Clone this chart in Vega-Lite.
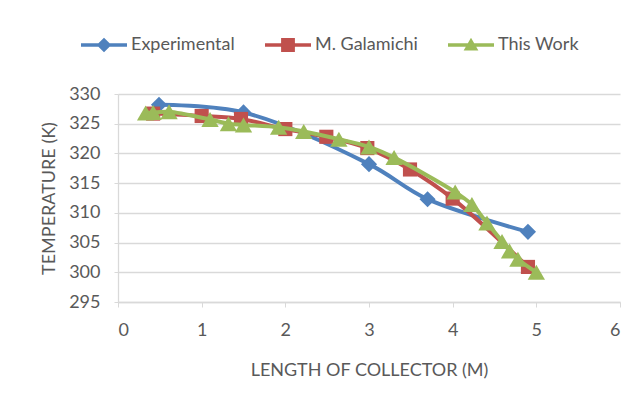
{
  "$schema": "https://vega.github.io/schema/vega-lite/v6.json",
  "width": 502,
  "height": 208,
  "autosize": {"type": "none"},
  "padding": {"left": 118, "top": 94, "right": 15, "bottom": 102},
  "background": "white",
  "config": {
    "view": {"stroke": null},
    "font": "Lato",
    "axis": {
      "labelFont": "Lato", "labelFontSize": 18, "labelColor": "#595959",
      "titleFont": "Lato", "titleFontSize": 18, "titleColor": "#595959", "titleFontWeight": "normal",
      "domainColor": "#d9d9d9", "tickColor": "#d9d9d9", "gridColor": "#d9d9d9", "gridWidth": 1.3, "domainWidth": 1.3
    },
    "legend": {"labelFont": "Lato", "labelFontSize": 18, "labelColor": "#595959"}
  },
  "data": {"values": [
    {"series": "Experimental", "length": 0.49, "temp": 328.2},
    {"series": "Experimental", "length": 1.5, "temp": 326.9},
    {"series": "Experimental", "length": 3.0, "temp": 318.2},
    {"series": "Experimental", "length": 3.7, "temp": 312.3},
    {"series": "Experimental", "length": 4.9, "temp": 306.8},
    {"series": "M. Galamichi", "length": 0.42, "temp": 326.7},
    {"series": "M. Galamichi", "length": 1.0, "temp": 326.3},
    {"series": "M. Galamichi", "length": 1.47, "temp": 325.8},
    {"series": "M. Galamichi", "length": 2.0, "temp": 324.1},
    {"series": "M. Galamichi", "length": 2.49, "temp": 322.8},
    {"series": "M. Galamichi", "length": 2.98, "temp": 320.9},
    {"series": "M. Galamichi", "length": 3.49, "temp": 317.3},
    {"series": "M. Galamichi", "length": 4.0, "temp": 312.4},
    {"series": "M. Galamichi", "length": 4.9, "temp": 300.9},
    {"series": "This Work", "length": 0.33, "temp": 326.8},
    {"series": "This Work", "length": 0.42, "temp": 326.9},
    {"series": "This Work", "length": 0.61, "temp": 327.0},
    {"series": "This Work", "length": 1.1, "temp": 325.7},
    {"series": "This Work", "length": 1.32, "temp": 325.0},
    {"series": "This Work", "length": 1.5, "temp": 324.8},
    {"series": "This Work", "length": 1.92, "temp": 324.4},
    {"series": "This Work", "length": 2.22, "temp": 323.7},
    {"series": "This Work", "length": 2.64, "temp": 322.4},
    {"series": "This Work", "length": 3.0, "temp": 321.1},
    {"series": "This Work", "length": 3.3, "temp": 319.3},
    {"series": "This Work", "length": 4.03, "temp": 313.5},
    {"series": "This Work", "length": 4.23, "temp": 311.4},
    {"series": "This Work", "length": 4.41, "temp": 308.3},
    {"series": "This Work", "length": 4.59, "temp": 305.2},
    {"series": "This Work", "length": 4.68, "temp": 303.6},
    {"series": "This Work", "length": 4.78, "temp": 302.2},
    {"series": "This Work", "length": 5.0, "temp": 300.0}
  ]},
  "encoding": {
    "x": {
      "field": "length", "type": "quantitative",
      "scale": {"domain": [0, 6], "nice": false},
      "axis": {"values": [0, 1, 2, 3, 4, 5, 6], "grid": false, "title": "LENGTH OF COLLECTOR (M)", "tickSize": 5, "labelPadding": 14, "titlePadding": 22}
    },
    "y": {
      "field": "temp", "type": "quantitative",
      "scale": {"domain": [295, 330], "zero": false, "nice": false},
      "axis": {"values": [295, 300, 305, 310, 315, 320, 325, 330], "grid": true, "title": "TEMPERATURE (K)", "tickSize": 4, "labelPadding": 14, "titlePadding": 10}
    },
    "color": {
      "field": "series", "type": "nominal",
      "scale": {"domain": ["Experimental", "M. Galamichi", "This Work"], "range": ["#4F81BD", "#C0504D", "#9BBB59"]},
      "legend": {
        "title": null, "orient": "none", "legendX": -37, "legendY": -72, "direction": "horizontal",
        "padding": 0, "symbolSize": 2116, "labelOffset": 4, "columnPadding": 30,
        "encode": {"symbols": {"update": {
          "shape": {"signal": "datum.value === 'Experimental' ? 'M-1,-0.08H1V0.08H-1Z M0,-0.32L0.32,0L0,0.32L-0.32,0Z' : datum.value === 'M. Galamichi' ? 'M-1,-0.08H1V0.08H-1Z M-0.3,-0.3H0.3V0.3H-0.3Z' : 'M-1,-0.08H1V0.08H-1Z M0,-0.32L0.32,0.24L-0.32,0.24Z'"},
          "fill": {"signal": "datum.value === 'Experimental' ? '#4F81BD' : datum.value === 'M. Galamichi' ? '#C0504D' : '#9BBB59'"},
          "strokeWidth": {"value": 0},
          "opacity": {"value": 1}
        }}}
      }
    }
  },
  "layer": [
    {"transform": [{"filter": "datum.series === 'Experimental'"}], "mark": {"type": "line", "interpolate": "catmull-rom", "strokeWidth": 4}},
    {"transform": [{"filter": "datum.series === 'Experimental'"}], "mark": {"type": "point", "shape": "diamond", "filled": true, "opacity": 1, "size": 260}},
    {"transform": [{"filter": "datum.series === 'M. Galamichi'"}], "mark": {"type": "line", "interpolate": "catmull-rom", "strokeWidth": 4}},
    {"transform": [{"filter": "datum.series === 'M. Galamichi'"}], "mark": {"type": "point", "shape": "square", "filled": true, "opacity": 1, "size": 200}},
    {"transform": [{"filter": "datum.series === 'This Work'"}], "mark": {"type": "line", "interpolate": "catmull-rom", "strokeWidth": 4}},
    {"transform": [{"filter": "datum.series === 'This Work'"}], "mark": {"type": "point", "shape": "triangle-up", "filled": true, "opacity": 1, "size": 300}}
  ]
}
